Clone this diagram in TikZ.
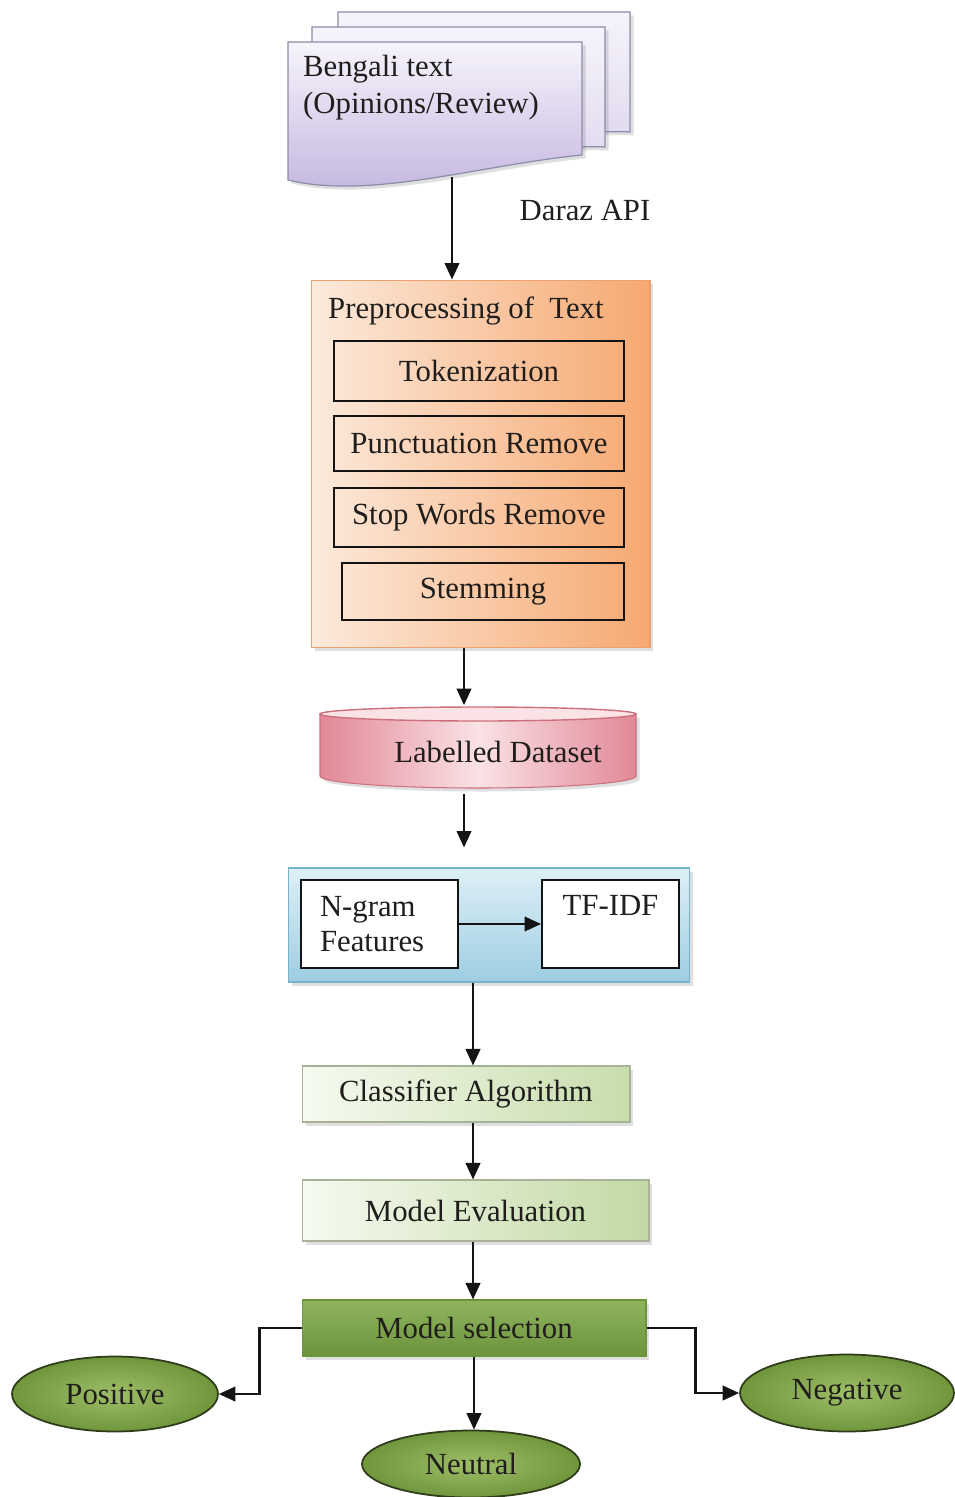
\documentclass[tikz,border=0pt]{standalone}
\usepackage{fontspec}
\setmainfont{Liberation Serif}
\usepackage{tikz}
\usetikzlibrary{arrows.meta,calc,positioning,shapes.geometric,shadows}
\definecolor{flowInk}{RGB}{32,30,28}
\definecolor{flowLine}{RGB}{20,20,20}
\definecolor{flowLilac}{RGB}{194,180,222}
\definecolor{flowLilacPale}{RGB}{247,244,252}
\definecolor{flowSheet}{RGB}{140,140,170}
\definecolor{flowOrange}{RGB}{246,168,112}
\definecolor{flowPeach}{RGB}{252,234,220}
\definecolor{flowOrangeRule}{RGB}{236,162,112}
\definecolor{flowRose}{RGB}{226,136,150}
\definecolor{flowRosePale}{RGB}{250,226,229}
\definecolor{flowRoseRule}{RGB}{204,112,126}
\definecolor{flowSky}{RGB}{158,205,226}
\definecolor{flowSkyPale}{RGB}{222,240,247}
\definecolor{flowSkyRule}{RGB}{118,178,204}
\definecolor{flowLeafPale}{RGB}{246,250,240}
\definecolor{flowLeaf}{RGB}{200,221,172}
\definecolor{flowLeafRule}{RGB}{168,178,150}
\definecolor{flowMoss}{RGB}{144,180,94}
\definecolor{flowMossDark}{RGB}{108,148,60}
\definecolor{flowOlive}{RGB}{112,150,60}
\definecolor{flowOliveLight}{RGB}{158,190,104}
\definecolor{flowOliveDark}{RGB}{46,60,26}
\tikzset{
  flowtext/.style={font=\fontsize{17.5}{21}\selectfont,text=flowInk},
  flowshadow/.style={drop shadow={opacity=0.25,shadow xshift=0.7mm,shadow yshift=-0.7mm}},
  flowsheet/.style={draw=flowSheet,line width=0.7pt,top color=flowLilacPale,bottom color=flowLilac!55},
  flowprep/.style={draw=flowOrangeRule,line width=0.6pt,left color=flowPeach,right color=flowOrange,flowshadow,
    minimum width=6.78cm,minimum height=7.36cm},
  flowstep/.style={draw=flowLine,line width=1.1pt,flowtext,inner sep=0pt},
  flowfeat/.style={draw=flowSkyRule,line width=0.6pt,top color=flowSkyPale,bottom color=flowSky,flowshadow,
    minimum width=8.04cm,minimum height=2.28cm},
  flowwhite/.style={draw=flowLine,line width=1.1pt,fill=white,flowtext,minimum height=1.76cm},
  flowleaf/.style={draw=flowLeafRule,line width=0.6pt,left color=flowLeafPale,right color=flowLeaf,flowshadow,flowtext},
  flowmoss/.style={draw=flowMossDark,line width=0.6pt,top color=flowMoss,bottom color=flowMossDark,flowshadow,flowtext},
  flowoval/.style={ellipse,draw=flowOliveDark,line width=1pt,inner color=flowOliveLight,outer color=flowOlive,
    flowtext,inner sep=0pt},
  flowarrow/.style={-{Triangle[length=3.3mm,width=2.9mm]},draw=flowLine,line width=1.4pt},
}
\begin{document}
\begin{tikzpicture}[x=0.02cm,y=-0.02cm]
  \useasboundingbox (0,0) rectangle (954,1497);

  % Stack of review sheets.
  \path[flowsheet,flowshadow] (338,12) -- (630,12) -- (630,132)
    .. controls (560,128) and (460,158) .. (338,150) -- cycle;
  \path[flowsheet,flowshadow] (312,27) -- (605,27) -- (605,147)
    .. controls (520,143) and (420,180) .. (312,165) -- cycle;
  \path[flowsheet,top color=flowLilacPale,bottom color=flowLilac,flowshadow] (288,42) -- (582,42) -- (582,155)
    .. controls (480,165) and (370,200) .. (288,180) -- cycle;
  \node[flowtext,anchor=north west,align=left] (doc) at (297,49)
    {Bengali text\\(Opinions/Review)};
  \coordinate (docfoot) at (452,177);
  \node[flowtext] (api) at (585,210) {Daraz API};

  % Preprocessing block and its steps.
  \node[flowprep] (prep) at (480.5,464) {};
  \node[flowtext,anchor=west] (preptitle) at (322,311) {Preprocessing of\ \ Text};
  \node[flowstep,minimum width=5.8cm,minimum height=1.2cm] (tok) at (479,371) {Tokenization};
  \node[flowstep,minimum width=5.8cm,minimum height=1.1cm] (punct) at (479,443.5) {Punctuation Remove};
  \node[flowstep,minimum width=5.8cm,minimum height=1.18cm] (stop) at (479,517.5) {Stop Words Remove};
  \node[flowstep,minimum width=5.64cm,minimum height=1.14cm] (stem) at (483,591.5) {Stemming};

  % Labelled dataset drum.
  \path[draw=flowRoseRule,line width=0.6pt,left color=flowRose,right color=flowRose,middle color=flowRosePale,flowshadow]
    (320,714) -- (636,714) -- (636,776)
    arc[start angle=0,end angle=180,x radius=158,y radius=12] -- cycle;
  \path[draw=flowRoseRule,line width=0.8pt,fill=flowRosePale]
    (478,714) ellipse [x radius=158,y radius=7];
  \node[flowtext,minimum width=6.32cm,minimum height=1.66cm] (data) at (478,752)
    {\hspace*{0.8cm}Labelled Dataset};

  % Feature extraction.
  \node[flowfeat] (feat) at (489,925) {};
  \node[flowwhite,minimum width=3.14cm,inner xsep=0.38cm,text width=2.38cm,align=left,
    font=\fontsize{17.5}{19.5}\selectfont] (ngram) at (379.5,924) {N-gram\\Features};
  \node[flowwhite,minimum width=2.74cm,align=center] (tfidf) at (610.5,924) {TF-IDF\\[-0.2cm]\strut};

  % Training and selection.
  \node[flowleaf,minimum width=6.56cm,minimum height=1.12cm] (cls) at (466,1094) {Classifier Algorithm};
  \node[flowleaf,minimum width=6.94cm,minimum height=1.22cm,right color=flowLeaf!90!flowMoss] (eval)
    at (475.5,1210.5) {Model Evaluation};
  \node[flowmoss,minimum width=6.88cm,minimum height=1.12cm] (sel) at (474,1328) {Model selection};

  % Sentiment classes.
  \node[flowoval,minimum width=4.12cm,minimum height=1.5cm] (pos) at (115,1394) {Positive};
  \node[flowoval,minimum width=4.28cm,minimum height=1.54cm] (neg) at (847,1393) {Negative};
  \node[flowoval,minimum width=4.36cm,minimum height=1.34cm] (neu) at (471,1464) {Neutral};

  % Connectors.
  \coordinate (colB) at (464,0);
  \coordinate (colC) at (473,0);
  \draw[flowarrow] (docfoot) -- (docfoot |- prep.north);
  \draw[flowarrow] (prep.south -| colB) -- ([yshift=0.1cm]data.north -| colB);
  \draw[flowarrow,shorten >=0.4cm] (data.south -| colB) -- (feat.north -| colB);
  \draw[flowarrow] (ngram.east) -- (tfidf.west);
  \draw[flowarrow] (feat.south -| colC) -- (cls.north -| colC);
  \draw[flowarrow] (cls.south -| colC) -- (eval.north -| colC);
  \draw[flowarrow] (eval.south -| colC) -- (sel.north -| colC);
  \draw[flowarrow] (sel.west) -- ++(-42,0) |- (pos.east);
  \draw[flowarrow] (sel.east) -- ++(49,0) |- (neg.west);
  \draw[flowarrow] (sel.south) -- (sel.south |- neu.north);
\end{tikzpicture}
\end{document}
